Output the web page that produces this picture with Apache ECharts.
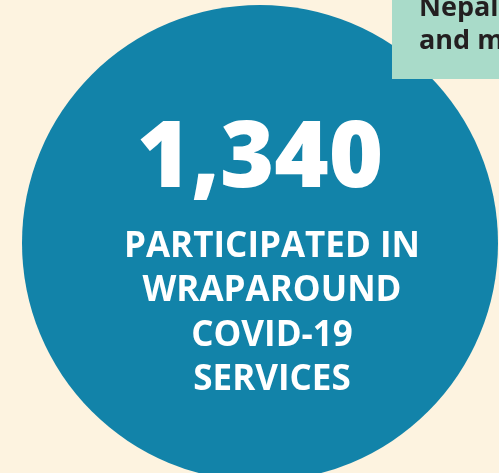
<!DOCTYPE html>
<html>
<head>
<meta charset="utf-8">
<script src="https://cdn.jsdelivr.net/npm/echarts@6/dist/echarts.min.js"></script>
<style>
html,body{margin:0;padding:0;background:#fdf3e0;}
#chart{width:499px;height:473px;}
</style>
</head>
<body>
<div id="chart"></div>
<script>
// Data
const headlineValue = [1340];
const statLines = ['PARTICIPATED IN', 'WRAPAROUND', 'COVID-19', 'SERVICES'];
const noteLines = ['Nepali', 'and more'];

const chart = echarts.init(document.getElementById('chart'), null, {renderer: 'canvas'});
const font = '"Open Sans", "Noto Sans", sans-serif';

const graphics = [];
// Note box (top right)
graphics.push({
  type: 'rect', z: 100,
  shape: {x: 392, y: -10, width: 130, height: 89},
  style: {fill: '#a9dbc9'}
});
noteLines.forEach((t, i) => {
  graphics.push({
    type: 'text', z: 101,
    x: 419, y: 8 + i * 33,
    style: {text: t, fill: '#231f20', font: 'bold 27px ' + font, textAlign: 'left', verticalAlign: 'middle'}
  });
});
// Big number
graphics.push({
  type: 'text', z: 101,
  x: 260, y: 160,
  style: {text: headlineValue[0].toLocaleString('en-US'), fill: '#ffffff', font: '800 93px ' + font, textAlign: 'center', verticalAlign: 'middle'}
});
statLines.forEach((t, i) => {
  graphics.push({
    type: 'text', z: 101,
    x: 272, y: 247 + i * 44.5,
    style: {text: t, fill: '#ffffff', font: 'bold 35px ' + font, textAlign: 'center', verticalAlign: 'middle'}
  });
});

chart.setOption({
  backgroundColor: '#fdf3e0',
  animation: false,
  series: [{
    type: 'pie',
    center: [260, 243],
    radius: [0, 238],
    silent: true,
    label: {show: false},
    labelLine: {show: false},
    itemStyle: {color: '#1283a9', borderWidth: 0},
    data: [{value: headlineValue[0], name: 'Participants'}]
  }],
  graphic: graphics
});
</script>
</body>
</html>
